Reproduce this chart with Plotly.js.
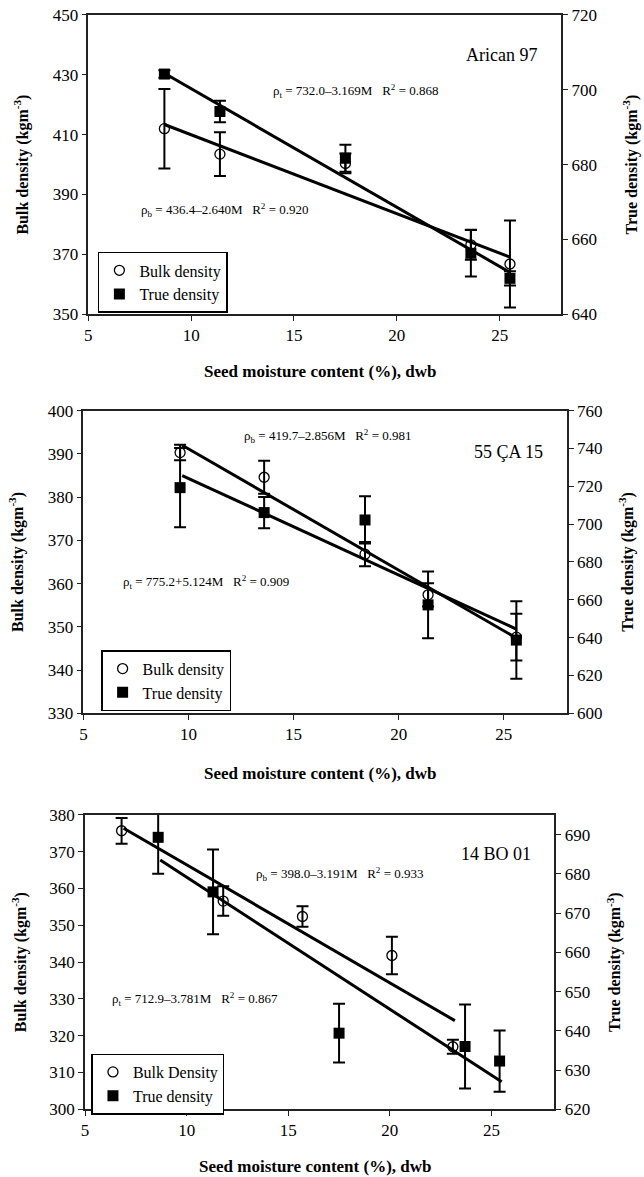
<!DOCTYPE html>
<html>
<head>
<meta charset="utf-8">
<script src="https://cdn.plot.ly/plotly-3.0.1.min.js"></script>
<style>html,body{margin:0;padding:0;background:#fff}#chart{width:644px;height:1177px}</style>
</head>
<body>
<div id="chart"></div>
<script>
// ---------- Panel 1: Arican 97 ----------
var p1Name = "Arican 97";
var p1BulkM = [8.7, 11.4, 17.5, 23.6, 25.5];
var p1Bulk = [412.0, 403.5, 400.4, 373.2, 366.8];
var p1BulkErr = [13.3, 7.3, 3.3, 5.0, 14.5];
var p1TrueM = [8.7, 11.4, 17.5, 23.6, 25.5];
var p1True = [704.2, 694.2, 681.7, 656.3, 649.6];
var p1TrueErr = [1.0, 2.9, 3.6, 6.2, 1.9];
var p1BulkFitM = [8.7, 25.5];
var p1BulkFit = [413.4, 369.1];
var p1TrueFitM = [8.7, 25.5];
var p1TrueFit = [704.4, 651.2];
var p1EqT = "\u03c1<sub>t</sub> = 732.0\u20133.169M\u00a0\u00a0\u00a0R<sup>2</sup> = 0.868";
var p1EqB = "\u03c1<sub>b</sub> = 436.4\u20132.640M\u00a0\u00a0\u00a0R<sup>2</sup> = 0.920";

// ---------- Panel 2: 55 ÇA 15 ----------
var p2Name = "55 ÇA 15";
var p2BulkM = [9.6, 13.6, 18.4, 21.4, 25.6];
var p2Bulk = [390.3, 384.6, 366.8, 357.4, 347.6];
var p2BulkErr = [1.8, 3.8, 2.8, 2.7, 5.4];
var p2TrueM = [9.6, 13.6, 18.4, 21.4, 25.6];
var p2True = [719.3, 706.1, 702.2, 657.3, 638.7];
var p2TrueErr = [21.0, 8.3, 12.5, 17.7, 20.5];
var p2BulkFitM = [9.7, 25.6];
var p2BulkFit = [392.0, 347.4];
var p2TrueFitM = [9.7, 25.6];
var p2TrueFit = [725.7, 644.5];
var p2EqB = "\u03c1<sub>b</sub> = 419.7\u20132.856M\u00a0\u00a0\u00a0R<sup>2</sup> = 0.981";
var p2EqT = "\u03c1<sub>t</sub> = 775.2+5.124M\u00a0\u00a0\u00a0R<sup>2</sup> = 0.909";

// ---------- Panel 3: 14 BO 01 ----------
var p3Name = "14 BO 01";
var p3BulkM = [6.8, 11.8, 15.7, 20.1, 23.1];
var p3Bulk = [375.7, 356.6, 352.4, 341.8, 317.0];
var p3BulkErr = [3.5, 4.0, 2.8, 5.1, 1.9];
var p3TrueM = [8.6, 11.3, 17.5, 23.7, 25.4];
var p3True = [689.3, 675.4, 639.4, 636.0, 632.3];
var p3TrueErr = [9.3, 10.8, 7.5, 10.7, 7.8];
var p3BulkFitM = [6.9, 23.2];
var p3BulkFit = [376.4, 324.1];
var p3TrueFitM = [8.7, 25.5];
var p3TrueFit = [683.5, 627.0];
var p3EqB = "\u03c1<sub>b</sub> = 398.0\u20133.191M\u00a0\u00a0\u00a0R<sup>2</sup> = 0.933";
var p3EqT = "\u03c1<sub>t</sub> = 712.9\u20133.781M\u00a0\u00a0\u00a0R<sup>2</sup> = 0.867";

var legendBulk = ["Bulk density", "Bulk density", "Bulk Density"];
var legendTrue = ["True density", "True density", "True density"];
var xTitle = "Seed moisture content (%), dwb";
var yTitle = "Bulk density (kgm<sup>-3</sup>)";
var y2Title = "True density (kgm<sup>-3</sup>)";

var FONT = "Liberation Serif, Times New Roman, serif";
var INK = "#000";

function pts(x, y, err, xa, ya, sym, name, leg) {
  return {
    type: "scatter", mode: "markers", x: x, y: y, xaxis: xa, yaxis: ya,
    name: name, legend: leg, cliponaxis: false,
    marker: sym === "o"
      ? {symbol: "circle-open", size: 10, color: INK, line: {width: 1.3, color: INK}}
      : {symbol: "square", size: 11, color: INK},
    error_y: {type: "data", array: err, visible: true, color: INK, thickness: 2, width: 6}
  };
}
function fit(x, y, xa, ya) {
  return {type: "scatter", mode: "lines", x: x, y: y, xaxis: xa, yaxis: ya,
    showlegend: false, hoverinfo: "skip", line: {color: INK, width: 3}};
}

var data = [
  pts(p1BulkM, p1Bulk, p1BulkErr, "x", "y", "o", legendBulk[0], "legend"),
  pts(p1TrueM, p1True, p1TrueErr, "x", "y2", "s", legendTrue[0], "legend"),
  fit(p1BulkFitM, p1BulkFit, "x", "y"),
  fit(p1TrueFitM, p1TrueFit, "x", "y2"),
  pts(p2BulkM, p2Bulk, p2BulkErr, "x2", "y3", "o", legendBulk[1], "legend2"),
  pts(p2TrueM, p2True, p2TrueErr, "x2", "y4", "s", legendTrue[1], "legend2"),
  fit(p2BulkFitM, p2BulkFit, "x2", "y3"),
  fit(p2TrueFitM, p2TrueFit, "x2", "y4"),
  pts(p3BulkM, p3Bulk, p3BulkErr, "x3", "y5", "o", legendBulk[2], "legend3"),
  pts(p3TrueM, p3True, p3TrueErr, "x3", "y6", "s", legendTrue[2], "legend3"),
  fit(p3BulkFitM, p3BulkFit, "x3", "y5"),
  fit(p3TrueFitM, p3TrueFit, "x3", "y6")
];

function xax(dom, anchor, range, tsize) {
  return {domain: dom, anchor: anchor, range: range, tick0: 5, dtick: 5,
    showline: true, linecolor: "#222", linewidth: 1.5, mirror: true,
    ticks: "outside", ticklen: 5, tickcolor: "#222", showgrid: false, zeroline: false,
    tickfont: {family: FONT, size: tsize, color: INK}};
}
function yax(dom, anchor, range, dtick, tsize, std) {
  return {domain: dom, anchor: anchor, range: range, dtick: dtick, tick0: range[0],
    showline: true, linecolor: "#222", linewidth: 1.5,
    ticks: "outside", ticklen: 5, tickcolor: "#222", showgrid: false, zeroline: false,
    tickfont: {family: FONT, size: tsize, color: INK},
    title: {text: yTitle, standoff: std, font: {family: FONT, size: 16, color: INK, weight: "bold"}}};
}
function y2ax(anchor, over, range, dtick, tsize, std) {
  return {anchor: anchor, overlaying: over, side: "right", range: range, dtick: dtick, tick0: range[0],
    showline: true, linecolor: "#222", linewidth: 1.5,
    ticks: "outside", ticklen: 5, tickcolor: "#222", showgrid: false, zeroline: false,
    tickfont: {family: FONT, size: tsize, color: INK},
    title: {text: y2Title, standoff: std, font: {family: FONT, size: 16, color: INK, weight: "bold"}}};
}
function legBox(x, y) {
  return {x: x, y: y, xanchor: "left", yanchor: "top", bgcolor: "#fff",
    bordercolor: INK, borderwidth: 1.5, itemwidth: 30, tracegroupgap: 0,
    font: {family: FONT, size: 16, color: INK}};
}
function ann(text, x, y, xr, yr, size) {
  return {text: text, x: x, y: y, xref: xr, yref: yr, showarrow: false,
    xanchor: "center", yanchor: "middle", font: {family: FONT, size: size, color: INK}};
}
function xTitleAnn(xr, y) {
  return {text: xTitle, x: 0.49, y: y, xref: xr + " domain", yref: "paper", showarrow: false,
    xanchor: "center", yanchor: "middle",
    font: {family: FONT, size: 17, color: INK, weight: "bold"}};
}

var layout = {
  width: 644, height: 1177, margin: {l: 0, r: 0, t: 0, b: 0},
  paper_bgcolor: "#fff", plot_bgcolor: "#fff", showlegend: true,
  font: {family: FONT, color: INK},
  xaxis: xax([0.1371, 0.8717], "y", [5, 28], 17),
  yaxis: yax([0.7330, 0.9873], "x", [350, 450], 20, 17, 20),
  yaxis2: y2ax("x", "y", [640, 720], 20, 17, 30),
  xaxis2: xax([0.1295, 0.8801], "y3", [5, 28], 17),
  yaxis3: yax([0.3940, 0.6511], "x2", [330, 400], 10, 17, 20),
  yaxis4: y2ax("x2", "y3", [600, 760], 20, 17, 20),
  xaxis3: xax([0.1320, 0.8610], "y5", [5, 28.1], 17),
  yaxis5: yax([0.0575, 0.3076], "x3", [300, 380], 10, 17, 19),
  yaxis6: y2ax("x3", "y5", [620, 695], 10, 17, 20),
  legend: legBox(0.152, 0.7860),
  legend2: legBox(0.157, 0.4476),
  legend3: legBox(0.142, 0.1049),
  annotations: [
    xTitleAnn("x", 1 - 372 / 1177),
    xTitleAnn("x2", 1 - 773 / 1177),
    xTitleAnn("x3", 1 - 1166 / 1177),
    ann(p1Name, 25.1, 436.6, "x", "y", 18),
    ann(p1EqT, 18.0, 424.7, "x", "y", 13),
    ann(p1EqB, 11.66, 384.9, "x", "y", 13),
    ann(p2Name, 25.25, 390.5, "x2", "y3", 18),
    ann(p2EqB, 16.64, 394.1, "x2", "y3", 13),
    ann(p2EqT, 10.81, 360.3, "x2", "y3", 13),
    ann(p3Name, 25.22, 369.3, "x3", "y5", 18),
    ann(p3EqB, 17.55, 363.9, "x3", "y5", 13),
    ann(p3EqT, 10.41, 330.1, "x3", "y5", 13)
  ]
};

Plotly.newPlot("chart", data, layout, {displayModeBar: false});
</script>
</body>
</html>
